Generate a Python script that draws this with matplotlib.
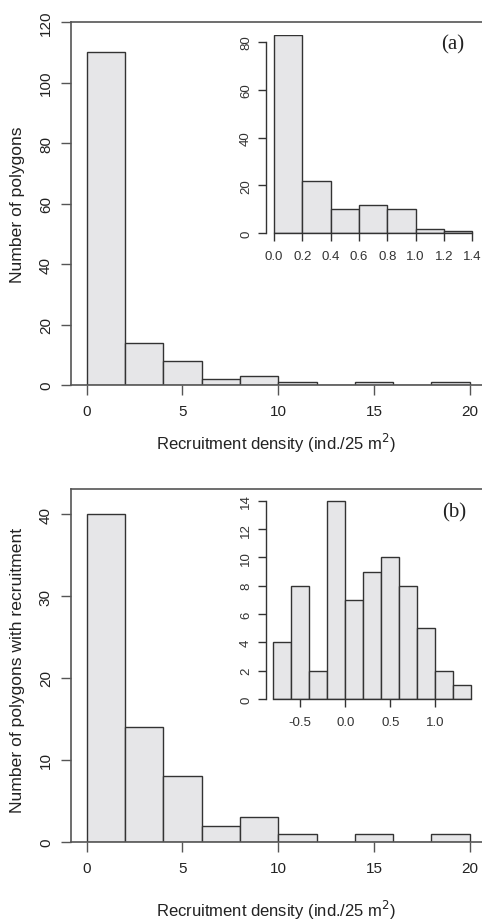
import numpy as np
import matplotlib
matplotlib.use('Agg')
import matplotlib.pyplot as plt

plt.rcParams['font.family'] = ['Liberation Sans', 'DejaVu Sans']

# Datos (histogramas: bordes de clases y frecuencias)
bordes_main = [0, 2, 4, 6, 8, 10, 12, 14, 16, 18, 20]
cuentas_a = [110, 14, 8, 2, 3, 1, 0, 1, 0, 1]
cuentas_b = [40, 14, 8, 2, 3, 1, 0, 1, 0, 1]

bordes_inset_a = [0.0, 0.2, 0.4, 0.6, 0.8, 1.0, 1.2, 1.4]
cuentas_inset_a = [83, 22, 10, 12, 10, 2, 1]

bordes_inset_b = [-0.8, -0.6, -0.4, -0.2, 0.0, 0.2, 0.4, 0.6, 0.8, 1.0, 1.2, 1.4]
cuentas_inset_b = [4, 8, 2, 14, 7, 9, 10, 8, 5, 2, 1]

xticks_main = [0, 5, 10, 15, 20]
yticks_a = [0, 20, 40, 60, 80, 100, 120]
yticks_b = [0, 10, 20, 30, 40]
xticks_inset_a = [0.0, 0.2, 0.4, 0.6, 0.8, 1.0, 1.2, 1.4]
yticks_inset_a = [0, 20, 40, 60, 80]
xticks_inset_b = [-0.5, 0.0, 0.5, 1.0]
yticks_inset_b = [0, 2, 4, 6, 8, 10, 12, 14]

xlabel = 'Recruitment density (ind./25 m$^2$)'
relleno = '#e6e6e8'
borde = '#333333'
eje = '#555555'

fig = plt.figure(figsize=(4.82, 9.2), dpi=100)


def barras(ax, bordes, cuentas):
    bordes = np.array(bordes)
    ax.bar(bordes[:-1], cuentas, width=np.diff(bordes), align='edge',
           color=relleno, edgecolor=borde, linewidth=1.0)


def panel_principal(rect, cuentas, yticks, ylim, ylabel):
    ax = fig.add_axes(rect)
    barras(ax, bordes_main, cuentas)
    ax.set_xlim(-0.82, 20.64)
    ax.set_ylim(*ylim)
    ax.spines['right'].set_visible(False)
    for s in ['left', 'bottom', 'top']:
        ax.spines[s].set_color(eje)
        ax.spines[s].set_linewidth(1.2)
    ax.set_xticks(xticks_main)
    ax.set_yticks(yticks)
    ax.tick_params(axis='x', length=7, width=1.0, color=eje, pad=7, labelsize=11, labelcolor='#222222')
    ax.tick_params(axis='y', length=7, width=1.0, color=eje, pad=6, labelsize=11, labelcolor='#222222',
                   labelrotation=90)
    for t in ax.get_yticklabels():
        t.set_verticalalignment('center')
    ax.set_xlabel(xlabel, fontsize=12, color='#222222')
    ax.set_ylabel(ylabel, fontsize=12.6, color='#222222')
    return ax


def panel_inset(rect, bordes, cuentas, xticks, yticks, xlim, ylim, etiqueta, pos):
    ax = fig.add_axes(rect)
    barras(ax, bordes, cuentas)
    ax.set_xlim(*xlim)
    ax.set_ylim(*ylim)
    ax.patch.set_alpha(0)
    ax.spines['right'].set_visible(False)
    ax.spines['top'].set_visible(False)
    ax.spines['left'].set_bounds(yticks[0], yticks[-1])
    ax.spines['bottom'].set_bounds(xticks[0], xticks[-1])
    for s in ['left', 'bottom']:
        ax.spines[s].set_color(borde)
        ax.spines[s].set_linewidth(1.0)
    ax.set_xticks(xticks)
    ax.set_yticks(yticks)
    ax.set_xticklabels(['%.1f' % v for v in xticks])
    ax.tick_params(axis='x', length=6, width=1.0, color=borde, pad=6, labelsize=9.5, labelcolor='#333333')
    ax.tick_params(axis='y', length=6, width=1.0, color=borde, pad=4, labelsize=9.5, labelcolor='#333333',
                   labelrotation=90)
    for t in ax.get_yticklabels():
        t.set_verticalalignment('center')
    ax.text(pos[0], pos[1], etiqueta, transform=ax.transAxes, ha='center', va='center',
            fontsize=15, family=['Liberation Serif', 'DejaVu Serif'], color='#222222')
    return ax


# Panel (a)
ax_a = panel_principal([0.1473, 0.5804, 0.8527, 0.3946], cuentas_a, yticks_a, (0, 120),
                       'Number of polygons')
ax_a.xaxis.set_label_coords(0.5, -0.157)
ax_a.xaxis.label.set_verticalalignment('center')
ax_a.yaxis.set_label_coords(-0.131, 0.5)
ax_a.yaxis.label.set_verticalalignment('center')

# Panel (b)
ax_b = panel_principal([0.1473, 0.0837, 0.8527, 0.3837], cuentas_b, yticks_b, (0, 43.05),
                       'Number of polygons with recruitment')
ax_b.xaxis.set_label_coords(0.5, -0.19)
ax_b.xaxis.label.set_verticalalignment('center')
ax_b.yaxis.set_label_coords(-0.131, 0.49)
ax_b.yaxis.label.set_verticalalignment('center')

# Inserciones
panel_inset([0.5519, 0.7453, 0.4398, 0.2155], bordes_inset_a, cuentas_inset_a,
            xticks_inset_a, yticks_inset_a, (-0.056, 1.44), (0, 82.8), '(a)', (0.882, 0.955))
ax_ib = panel_inset([0.5519, 0.2391, 0.4398, 0.2228], bordes_inset_b, cuentas_inset_b,
                    xticks_inset_b, yticks_inset_b, (-0.879, 1.473), (0, 14.48), '(b)', (0.887, 0.912))
ax_ib.spines['bottom'].set_bounds(bordes_inset_b[0], bordes_inset_b[-1])

fig.savefig('out.png', dpi=100)
